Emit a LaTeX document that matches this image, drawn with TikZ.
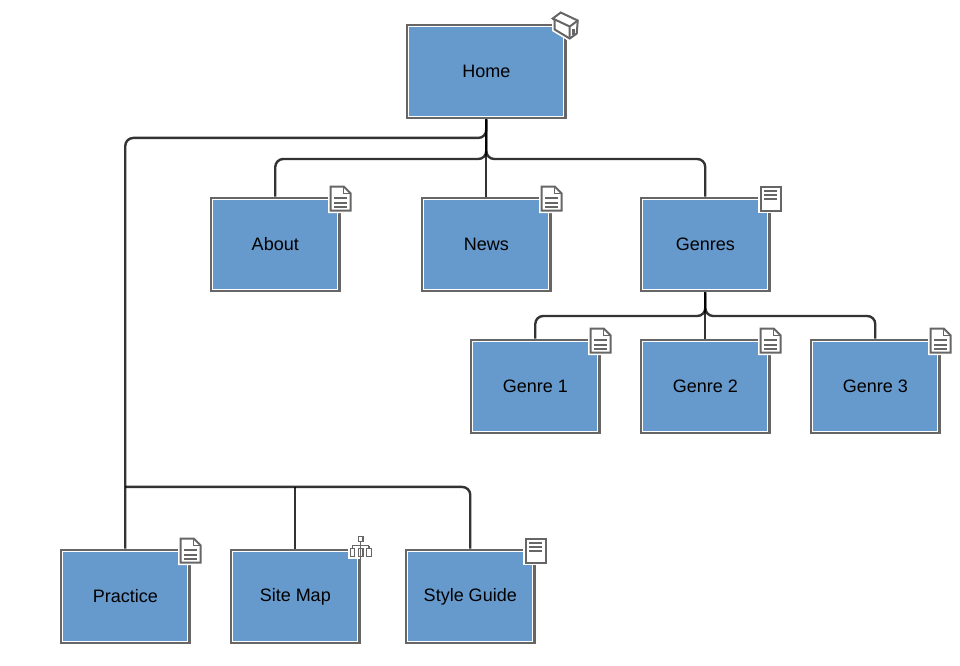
\documentclass[tikz,border=0pt]{standalone}
\usepackage{fontspec}
\setmainfont{Liberation Sans}
\usetikzlibrary{positioning}
\definecolor{boxblue}{HTML}{6699CC}
\definecolor{boxgray}{HTML}{666666}

\begin{document}
\begin{tikzpicture}[
    % Node styles
    pagebox/.style={
        rectangle, minimum width=96.5pt, minimum height=70.2pt,
        inner sep=0pt,
        font=\fontsize{13.5pt}{16pt}\selectfont, text=black,
        draw=boxgray, line width=1.7pt, fill=white,
        path picture={
            \fill[boxblue] ([shift={(1.85pt,1.85pt)}]path picture bounding box.south west)
                rectangle ([shift={(-1.85pt,-1.85pt)}]path picture bounding box.north east);
        },
    },
    homebox/.style={
        pagebox, minimum width=119pt,
    },
    link/.style={
        draw=black, draw opacity=0.8, line width=1.8pt, rounded corners=6pt,
    },
    % Icons, offsets in px from the corner of the box
    icon/.style={x=0.75pt, y=-0.75pt},
    iconline/.style={
        draw=boxgray, line width=1.5pt, fill=white, line join=miter,
        preaction={draw=white, line width=3.75pt},
    },
    iconthin/.style={draw=boxgray, line width=1pt},
    pageicon/.pic={
        \draw[iconline] (-10,-10) -- (3,-10) -- (10,-3) -- (10,14) -- (-10,14) -- cycle;
        \draw[iconthin] (3,-10) -- (3,-3) -- (10,-3);
        \foreach \liney in {1,6,10}
            \draw[iconthin, line width=1.5pt] (-6.5,\liney) -- (6.5,\liney);
    },
    docicon/.pic={
        \draw[iconline] (-10,-10) -- (10,-10) -- (10,14) -- (-10,14) -- cycle;
        \foreach \liney in {-6,-2,2}
            \draw[iconthin, line width=1.5pt] (-6.5,\liney) -- (6.5,\liney);
    },
    mapicon/.pic={
        \fill[white] (-13,-3) rectangle (-1,10);
        \draw[iconthin] (0,-7) -- (0,0) (-8.25,-3) -- (-8.25,0) (8.25,-3) -- (8.25,0)
            (-8.25,-3) -- (8.25,-3);
        \draw[iconthin] (-2.2,-12) rectangle (2.2,-7)
            (-10.5,0) rectangle (-6,8) (-2.2,0) rectangle (2.2,8) (6,0) rectangle (10.5,8);
    },
    homeicon/.pic={
        \draw[iconline, line width=1.5pt, preaction={draw=white, line width=3.75pt}]
            (-14,-5) -- (-6,-11) -- (11,-3) -- (10,10) -- (3,15) -- (-12,6) -- (-12,-3.5) -- cycle;
        \draw[iconthin, line width=1.5pt] (-14,-5) -- (3,3) -- (11,-3) (3,3) -- (3,15);
        \draw[draw=boxgray, line width=2pt] (7,5) -- (7,11);
    },
]

\useasboundingbox (0,0) rectangle (720pt,-498.75pt);

% === Root ===
\node[homebox] (home) at (364.7pt,-53.6pt) {Home};

% === Level 2 ===
\node[pagebox] (about)  [below left=57.85pt and 48.8pt of home]  {About};
\node[pagebox] (news)   [below=57.85pt of home]                  {News};
\node[pagebox] (genres) [below right=57.85pt and 54.8pt of home] {Genres};

% === Level 3 ===
\node[pagebox] (genretwo)   [below=34.6pt of genres]       {Genre 2};
\node[pagebox] (genreone)   [left=29.3pt of genretwo]      {Genre 1};
\node[pagebox] (genrethree) [right=29.3pt of genretwo]     {Genre 3};

% === Bottom row ===
\node[pagebox] (practice)   [below left=321.85pt and 161.3pt of home] {Practice};
\node[pagebox] (sitemap)    [right=29.3pt of practice]                {Site Map};
\node[pagebox] (styleguide) [right=33.05pt of sitemap]                {Style Guide};

% === Edges: home to level 2 ===
\draw[link] (home.south) -- ++(0,-29.7pt) -| (about.north);
\draw[link] (home.south) -- (news.north);
\draw[link] (home.south) -- ++(0,-29.7pt) -| (genres.north);

% === Edges: genres to level 3 ===
\draw[link] (genres.south) -- ++(0,-17.7pt) -| (genreone.north);
\draw[link] (genres.south) -- (genretwo.north);
\draw[link] (genres.south) -- ++(0,-17.7pt) -| (genrethree.north);

% === Edges: bottom row ===
\draw[link] (home.south) -- ++(0,-13.9pt) -| (practice.north);
\coordinate[above=46.2pt of practice.north] (split);
\draw[link] (split) -| (styleguide.north);
\draw[link] (split -| sitemap.north) -- (sitemap.north);

% === Icons ===
\pic[icon] at (home.north east) {homeicon};
\pic[icon] at (about.north east) {pageicon};
\pic[icon] at (news.north east) {pageicon};
\pic[icon] at (genres.north east) {docicon};
\pic[icon] at (genreone.north east) {pageicon};
\pic[icon] at (genretwo.north east) {pageicon};
\pic[icon] at (genrethree.north east) {pageicon};
\pic[icon] at (practice.north east) {pageicon};
\pic[icon] at (sitemap.north east) {mapicon};
\pic[icon] at (styleguide.north east) {docicon};

\end{tikzpicture}
\end{document}
